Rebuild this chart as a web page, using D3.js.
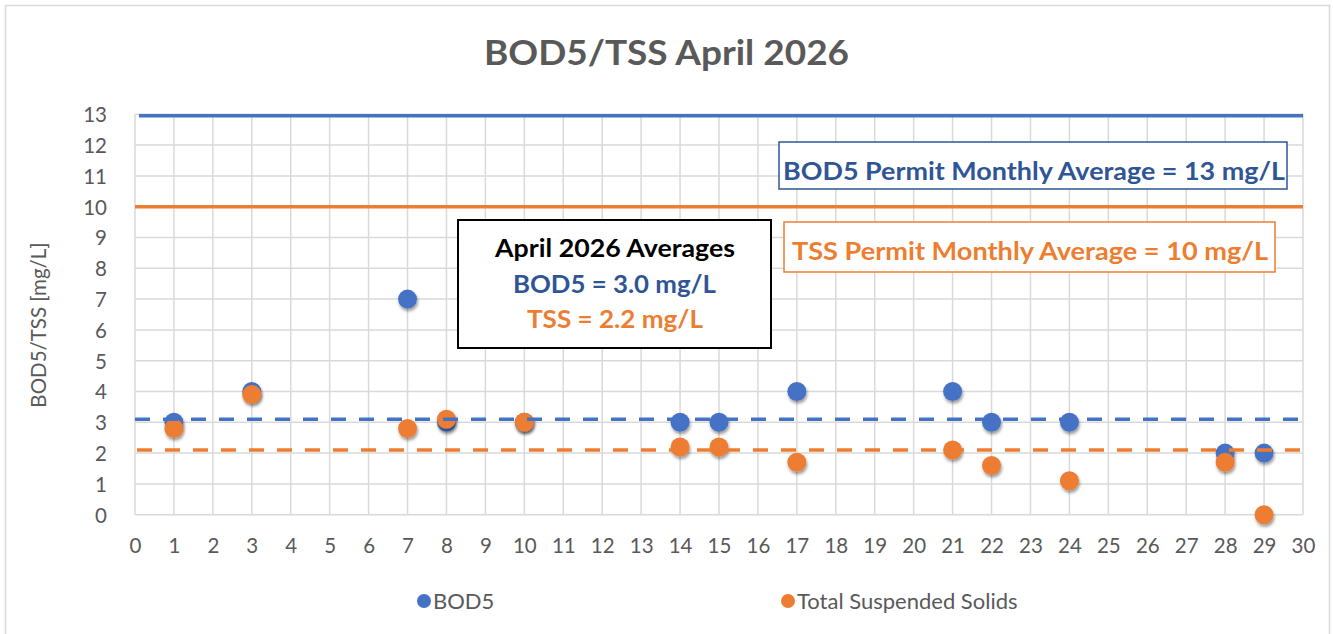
<html lang="en">
<head>
<meta charset="utf-8">
<title>BOD5/TSS April 2026</title>
<style>
  body { margin: 0; background: white; font-family: Lato, "Open Sans", sans-serif; }
  .tick text { fill: #595959; font-size: 20.5px; font-family: Lato, sans-serif; }
</style>
</head>
<body>
<div id="chart"></div>
<script src="https://d3js.org/d3.v7.min.js"></script>
<script>
// sample days and measured values (mg/L)
var days = [1, 3, 7, 8, 10, 14, 15, 17, 21, 22, 24, 28, 29];
var bod5 = [3, 4, 7, 3, 3, 3, 3, 4, 4, 3, 3, 2, 2];
var tss  = [2.8, 3.9, 2.8, 3.1, 3.0, 2.2, 2.2, 1.7, 2.1, 1.6, 1.1, 1.7, 0];

// reference lines
var bodPermit = 13, tssPermit = 10;
var bodAvgLine = 3.1, tssAvgLine = 2.1;

var xTicks = d3.range(0, 31);
var yTicks = d3.range(0, 14);
var seriesNames = ["BOD5", "Total Suspended Solids"];

var blue = "#4472C4", orange = "#ED7D31", darkBlue = "#2F5597", grey = "#595959";

var width = 1333, height = 634;
var svg = d3.select("#chart").append("svg")
  .attr("width", width).attr("height", height);

// drop shadow for markers
var defs = svg.append("defs");
var f = defs.append("filter").attr("id", "shadow")
  .attr("x", "-50%").attr("y", "-50%").attr("width", "200%").attr("height", "200%");
f.append("feDropShadow").attr("dx", 1).attr("dy", 2.5).attr("stdDeviation", 1.8)
  .attr("flood-color", "#000").attr("flood-opacity", 0.4);

// outer chart border
svg.append("rect").attr("x", 5.5).attr("y", 5.5).attr("width", 1324).attr("height", 640)
  .attr("fill", "white").attr("stroke", "#d9d9d9").attr("stroke-width", 1.5);

var x = d3.scaleLinear().domain([0, 30]).range([135, 1303]);
var y = d3.scaleLinear().domain([0, 13]).range([514.7, 114.3]);

// grid
var grid = svg.append("g");
grid.selectAll("line.v").data(xTicks).enter().append("line")
  .attr("x1", function(d){ return x(d); }).attr("x2", function(d){ return x(d); })
  .attr("y1", y(0)).attr("y2", y(13))
  .attr("stroke", "#d9d9d9").attr("stroke-width", 1.5);
grid.selectAll("line.h").data(yTicks).enter().append("line")
  .attr("x1", x(0)).attr("x2", x(30))
  .attr("y1", function(d){ return y(d); }).attr("y2", function(d){ return y(d); })
  .attr("stroke", "#d9d9d9").attr("stroke-width", 1.5);

// axes
var yAxis = svg.append("g").attr("transform", "translate(" + x(0) + ",0)")
  .call(d3.axisLeft(y).tickValues(yTicks).tickSize(0).tickPadding(28));
yAxis.select(".domain").remove();
yAxis.selectAll("text").attr("dy", "0.36em");

var xAxis = svg.append("g").attr("transform", "translate(0," + y(0) + ")")
  .call(d3.axisBottom(x).tickValues(xTicks).tickSize(0));
xAxis.select(".domain").remove();
xAxis.selectAll("text").attr("y", 38.5).attr("dy", 0);

// axis title
svg.append("text")
  .attr("transform", "translate(46,325) rotate(-90)")
  .attr("text-anchor", "middle")
  .attr("fill", grey).attr("font-size", 20.5)
  .text("BOD5/TSS [mg/L]");

// chart title
svg.append("text")
  .attr("x", 666.5).attr("y", 65)
  .attr("text-anchor", "middle")
  .attr("fill", grey).attr("font-size", 34).attr("font-weight", "bold")
  .attr("textLength", 365).attr("lengthAdjust", "spacingAndGlyphs")
  .text("BOD5/TSS April 2026");

// markers
var pts = svg.append("g");
pts.selectAll("circle.bod").data(days).enter().append("circle")
  .attr("cx", function(d){ return x(d); })
  .attr("cy", function(d, i){ return y(bod5[i]); })
  .attr("r", 9.5).attr("fill", blue).attr("filter", "url(#shadow)");
pts.selectAll("circle.tss").data(days).enter().append("circle")
  .attr("cx", function(d){ return x(d); })
  .attr("cy", function(d, i){ return y(tss[i]); })
  .attr("r", 9.5).attr("fill", orange).attr("filter", "url(#shadow)");

// permit lines
svg.append("line").attr("x1", x(0) + 4).attr("x2", x(30))
  .attr("y1", y(bodPermit) + 1.5).attr("y2", y(bodPermit) + 1.5)
  .attr("stroke", blue).attr("stroke-width", 3.5);
svg.append("line").attr("x1", x(0)).attr("x2", x(30))
  .attr("y1", y(tssPermit)).attr("y2", y(tssPermit))
  .attr("stroke", orange).attr("stroke-width", 3.5);

// average lines (dashed)
svg.append("line").attr("x1", x(0)).attr("x2", x(30))
  .attr("y1", y(bodAvgLine)).attr("y2", y(bodAvgLine))
  .attr("stroke", blue).attr("stroke-width", 3.5).attr("stroke-dasharray", "15,13");
svg.append("line").attr("x1", x(0) + 2).attr("x2", x(30))
  .attr("y1", y(tssAvgLine)).attr("y2", y(tssAvgLine))
  .attr("stroke", orange).attr("stroke-width", 3.5).attr("stroke-dasharray", "15,13");

// annotation boxes
function box(bx, by, bw, bh, col, sw) {
  svg.append("rect").attr("x", bx).attr("y", by).attr("width", bw).attr("height", bh)
    .attr("fill", "white").attr("stroke", col).attr("stroke-width", sw);
}
function label(tx, ty, txt, col, size, len) {
  svg.append("text").attr("x", tx).attr("y", ty)
    .attr("text-anchor", "middle").attr("fill", col)
    .attr("font-size", size).attr("font-weight", "bold")
    .attr("textLength", len).attr("lengthAdjust", "spacingAndGlyphs")
    .text(txt);
}

box(779, 142, 508, 47, darkBlue, 1.5);
label(1034, 180, "BOD5 Permit Monthly Average = " + bodPermit + " mg/L", darkBlue, 25.5, 502);

box(784, 222, 491, 50, orange, 1.5);
label(1030, 260, "TSS Permit Monthly Average = " + tssPermit + " mg/L", orange, 25, 476);

box(458, 220, 313, 128, "#000", 2);
label(615, 257, "April 2026 Averages", "#000", 24, 240);
label(614.5, 293, "BOD5 = 3.0 mg/L", darkBlue, 24, 203);
label(615, 328, "TSS = 2.2 mg/L", orange, 24, 176);

// legend
var legendX = [424, 788];
var legendCol = [blue, orange];
var lg = svg.append("g");
lg.selectAll("circle").data(seriesNames).enter().append("circle")
  .attr("cx", function(d, i){ return legendX[i]; }).attr("cy", 601)
  .attr("r", 7).attr("fill", function(d, i){ return legendCol[i]; });
lg.selectAll("text").data(seriesNames).enter().append("text")
  .attr("x", function(d, i){ return legendX[i] + 9; }).attr("y", 608.5)
  .attr("fill", grey).attr("font-size", 22)
  .text(function(d){ return d; });
</script>
</body>
</html>
